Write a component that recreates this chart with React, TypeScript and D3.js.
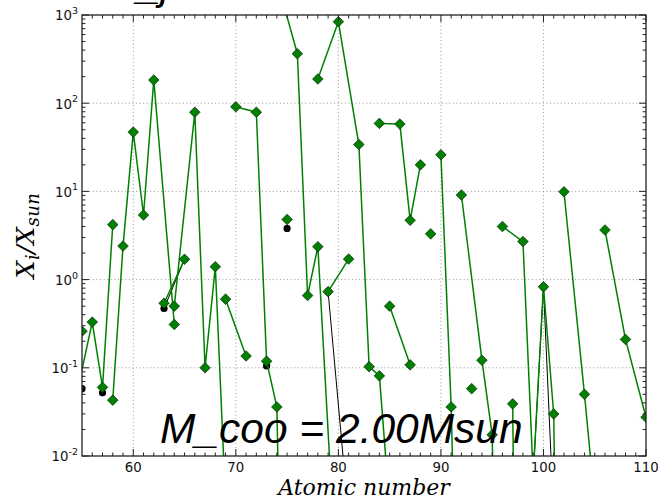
import React from 'react';
import * as d3 from 'd3';

// ---- data: [atomic number, X_i/X_sun] chains (each chain is one connected polyline)
const greenChains: [number, number][][] = [
  [[55, 0.26]],
  [[54, 0.0275], [56, 0.33], [57, 0.06], [58, 4.2]],
  [[58, 0.043], [59, 2.4], [60, 47], [61, 5.4], [62, 183], [64, 0.31]],
  [[63, 0.54], [65, 1.7]],
  [[64, 0.5], [66, 79], [67, 0.1], [68, 1.4], [69, 0.003]],
  [[69, 0.6], [71, 0.136]],
  [[70, 91], [72, 79], [73, 0.119], [74, 0.036], [75, 1e-7]],
  [[74, 2500], [76, 364], [77, 0.66], [78, 2.36], [80, 1.5e-4]],
  [[75, 4.8]],
  [[78, 188], [80, 840], [82, 34], [83, 0.103], [84, 0.081], [85, 0.0026]],
  [[79, 0.73], [81, 1.71]],
  [[84, 59], [86, 58], [87, 4.7], [88, 20]],
  [[85, 0.5], [87, 0.108]],
  [[89, 3.3]],
  [[90, 26], [91, 0.036], [92, 1e-6]],
  [[92, 9.1], [94, 0.122], [95, 0.0174], [96, 1e-8]],
  [[93, 0.058]],
  [[96, 4.0], [98, 2.7], [99, 0.006], [100, 0.83], [101, 0.03], [102, 1e-10]],
  [[97, 0.039], [98, 1e-12]],
  [[102, 9.9], [104, 0.05], [105, 0.003]],
  [[106, 3.65], [108, 0.21], [110, 0.0275]],
];

const blackChains: [number, number][][] = [
  [[55, 0.058]],
  [[57, 0.052]],
  [[63, 0.47], [65, 1.7]],
  [[73, 0.105]],
  [[75, 3.8]],
  [[79, 0.73], [81, 0.002]],
  [[99, 0.006], [100, 0.83], [101, 0.002]],
];

const xDomain: [number, number] = [55, 110];
const yDomain: [number, number] = [1e-2, 1e3];
const xTickValues = [60, 70, 80, 90, 100, 110];
const yTickExponents = [-2, -1, 0, 1, 2, 3];
const xLabel = 'Atomic number';
const annotation = 'M_coo = 2.00Msun';

const W = 659;
const H = 500;
const L = 82, R = 646, T = 15, B = 456;

export default function App() {
  const x = d3.scaleLinear().domain(xDomain).range([L, R]);
  const y = d3.scaleLog().domain(yDomain).range([B, T]);
  const line = d3
    .line<[number, number]>()
    .x((d) => x(d[0]))
    .y((d) => y(d[1]));

  const xMinor = d3.range(xDomain[0], xDomain[1] + 1).filter((v) => !xTickValues.includes(v) && v !== xDomain[0]);
  const yMinor: number[] = [];
  for (let e = -2; e < 3; e++) for (let k = 2; k <= 9; k++) yMinor.push(k * Math.pow(10, e));

  const diamond = 'M0,-5.3L5.3,0L0,5.3L-5.3,0Z';
  const tickFont = { fontFamily: 'DejaVu Sans', fontSize: 13.3, fill: '#111' };
  const majorLen = 7, minorLen = 3.5;

  return (
    <svg width={W} height={H} style={{ position: 'absolute', left: 0, top: 0, background: '#fff' }}>
      <defs>
        <clipPath id="plotclip">
          <rect x={L} y={T} width={R - L} height={B - T} />
        </clipPath>
      </defs>
      <rect x={0} y={0} width={W} height={H} fill="#fff" />

      {/* grid */}
      <g stroke="#8a8a8a" strokeWidth={0.9} strokeDasharray="1,2.6">
        {xTickValues.filter((v) => v > xDomain[0] && v < xDomain[1]).map((v) => (
          <line key={'gx' + v} x1={x(v)} x2={x(v)} y1={T} y2={B} />
        ))}
        {yTickExponents.slice(1, -1).map((e) => (
          <line key={'gy' + e} x1={L} x2={R} y1={y(Math.pow(10, e))} y2={y(Math.pow(10, e))} />
        ))}
      </g>

      {/* data */}
      <g clipPath="url(#plotclip)">
        {blackChains.map((c, i) => (
          <path key={'bl' + i} d={line(c) || ''} fill="none" stroke="#000" strokeWidth={1} />
        ))}
        {blackChains.map((c, i) =>
          c.map((p, j) => <circle key={'bc' + i + '-' + j} cx={x(p[0])} cy={y(p[1])} r={3.6} fill="#000" />)
        )}
        {greenChains.map((c, i) => (
          <path key={'gl' + i} d={line(c) || ''} fill="none" stroke="#008000" strokeWidth={1.5} />
        ))}
        {greenChains.map((c, i) =>
          c.map((p, j) => (
            <path
              key={'gd' + i + '-' + j}
              d={diamond}
              transform={`translate(${x(p[0])},${y(p[1])})`}
              fill="#008000"
              stroke="#0a2a0a"
              strokeWidth={0.7}
            />
          ))
        )}
      </g>

      {/* frame */}
      <rect x={L} y={T} width={R - L} height={B - T} fill="none" stroke="#222" strokeWidth={1.3} />

      {/* ticks */}
      <g stroke="#222" strokeWidth={1}>
        {xTickValues.map((v) => (
          <g key={'xt' + v}>
            <line x1={x(v)} x2={x(v)} y1={B} y2={B - majorLen} />
            <line x1={x(v)} x2={x(v)} y1={T} y2={T + majorLen} />
          </g>
        ))}
        {xMinor.map((v) => (
          <g key={'xm' + v}>
            <line x1={x(v)} x2={x(v)} y1={B} y2={B - minorLen} />
            <line x1={x(v)} x2={x(v)} y1={T} y2={T + minorLen} />
          </g>
        ))}
        {yTickExponents.map((e) => (
          <g key={'yt' + e}>
            <line x1={L} x2={L + majorLen} y1={y(Math.pow(10, e))} y2={y(Math.pow(10, e))} />
            <line x1={R} x2={R - majorLen} y1={y(Math.pow(10, e))} y2={y(Math.pow(10, e))} />
          </g>
        ))}
        {yMinor.map((v, i) => (
          <g key={'ym' + i}>
            <line x1={L} x2={L + minorLen} y1={y(v)} y2={y(v)} />
            <line x1={R} x2={R - minorLen} y1={y(v)} y2={y(v)} />
          </g>
        ))}
      </g>

      {/* tick labels */}
      {xTickValues.map((v) => (
        <text key={'xl' + v} x={x(v)} y={472} textAnchor="middle" {...tickFont}>
          {String(v)}
        </text>
      ))}
      {yTickExponents.map((e) => (
        <text key={'yl' + e} x={78} y={y(Math.pow(10, e)) + 5.4} textAnchor="end" {...tickFont}>
          10
          <tspan fontSize={9.5} dy={-6.5}>
            {String(e)}
          </tspan>
        </text>
      ))}

      {/* axis labels */}
      <text
        x={(L + R) / 2}
        y={495}
        textAnchor="middle"
        fontFamily="DejaVu Serif"
        fontStyle="italic"
        fontSize={22}
        fill="#000"
      >
        {xLabel}
      </text>
      <text
        transform={`translate(34,${(T + B) / 2}) rotate(-90)`}
        textAnchor="middle"
        fontFamily="DejaVu Serif"
        fontStyle="italic"
        fontSize={25}
        letterSpacing={0.5}
        fill="#000"
      >
        X
        <tspan fontSize={18} dy={5}>i</tspan>
        <tspan dy={-5}>/X</tspan>
        <tspan fontSize={18} dy={5}>sun</tspan>
      </text>

      {/* annotation */}
      <text
        x={160}
        y={443}
        fontFamily="Liberation Sans"
        fontStyle="italic"
        fontSize={42.5}
        fill="#000"
      >
        {annotation}
      </text>

      {/* cut-off title fragment at top */}
      <text x={137} y={-1} fontFamily="Liberation Sans" fontStyle="italic" fontSize={42} fill="#000">
        _j
      </text>
    </svg>
  );
}
